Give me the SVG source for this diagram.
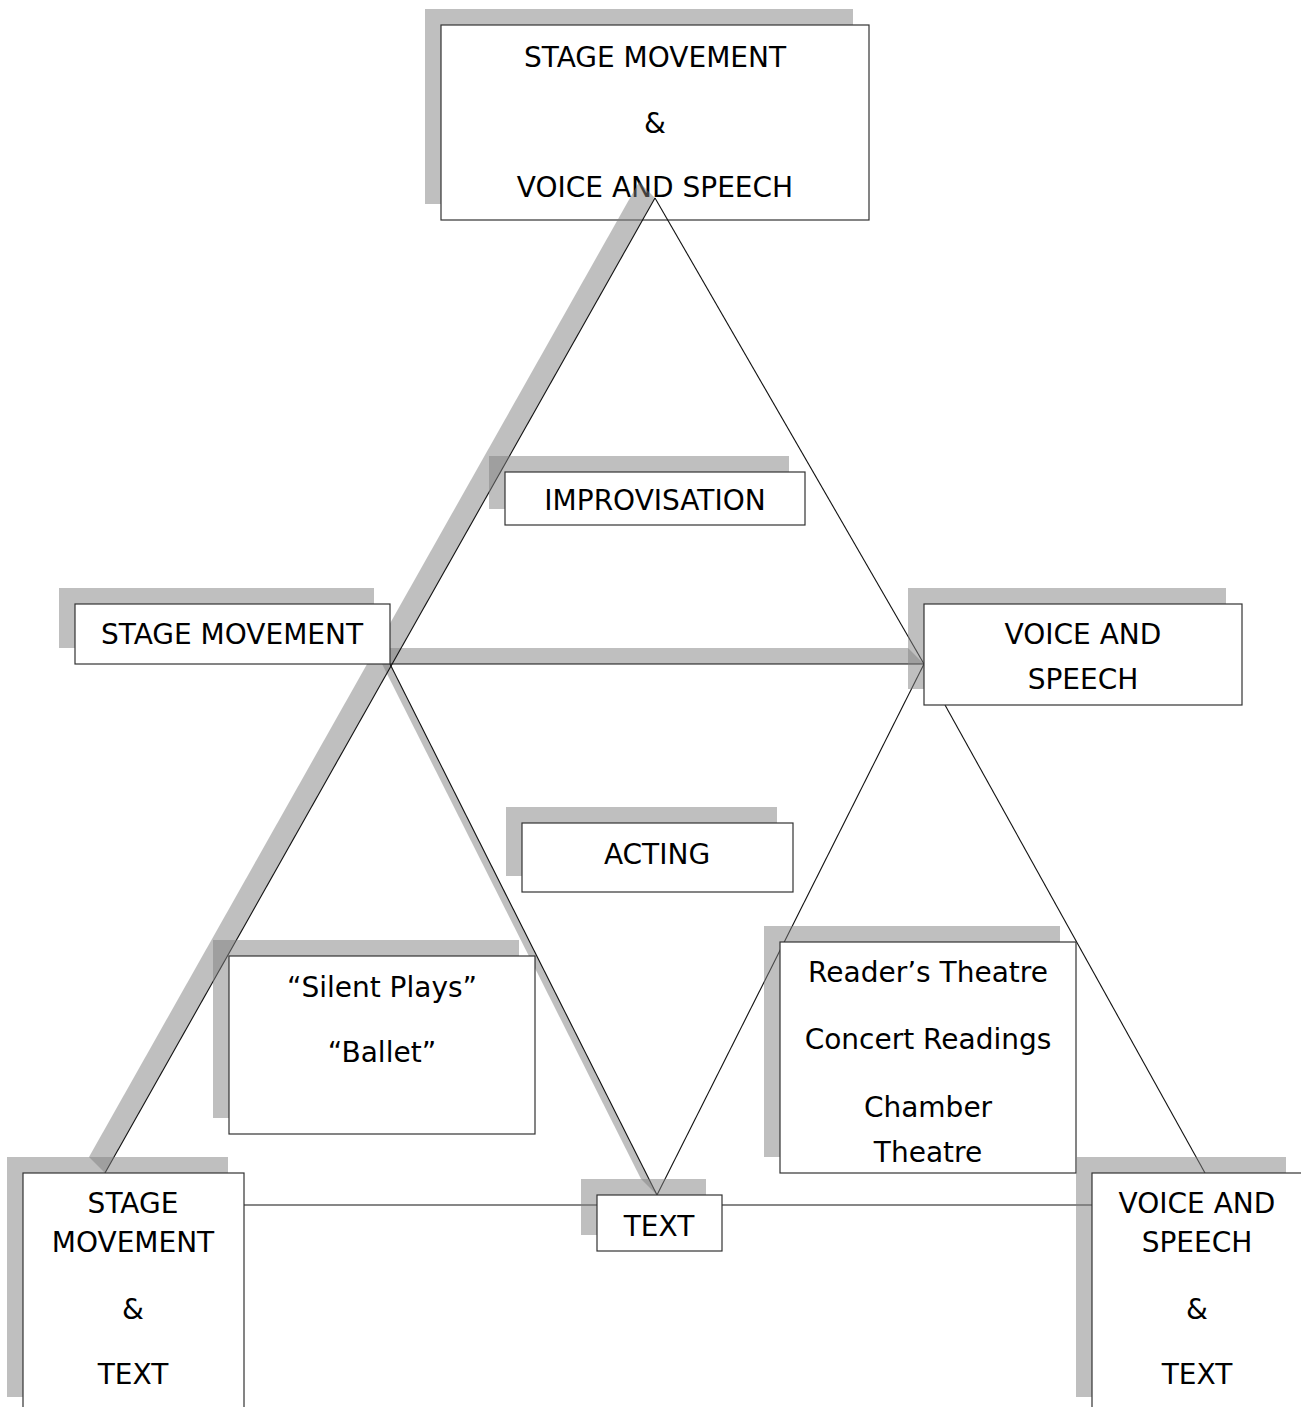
<svg xmlns="http://www.w3.org/2000/svg" width="1301" height="1407" viewBox="0 0 1301 1407">
<style>
.sh{fill:#808080;fill-opacity:0.5;stroke:none}
.bx{fill:#ffffff;stroke:#333333;stroke-width:1.2}
.ln{stroke:#111111;stroke-width:1.1;fill:none}
text{font-family:"DejaVu Sans","Liberation Sans",sans-serif;font-size:28px;fill:#000;text-anchor:middle}
</style>
<rect width="1301" height="1407" fill="#ffffff"/>
<g id="node-top">
<rect class="sh" x="425" y="9" width="428" height="195"/>
<rect class="bx" x="441" y="25" width="428" height="195"/>
<text x="655" y="67">STAGE MOVEMENT</text>
<text x="655" y="133">&amp;</text>
<text x="655" y="197">VOICE AND SPEECH</text>
</g>
<g id="connectors">
<polygon class="sh" points="655,198 105,1173 89,1157 639,182"/>
<polygon class="sh" points="390,664 924,664 908,648 374,648"/>
<polygon class="sh" points="390,664 657,1195 641,1179 374,648"/>
<line class="ln" x1="655" y1="198" x2="105" y2="1173"/>
<line class="ln" x1="655" y1="198" x2="924" y2="664"/>
<line class="ln" x1="945" y1="705" x2="1205" y2="1173"/>
<line class="ln" x1="390" y1="664" x2="924" y2="664"/>
<line class="ln" x1="390" y1="664" x2="657" y2="1195"/>
<line class="ln" x1="924" y1="664" x2="657" y2="1195"/>
<line class="ln" x1="244" y1="1205" x2="1092" y2="1205"/>
</g>
<g id="node-improvisation">
<rect class="sh" x="489" y="456" width="300" height="53"/>
<rect class="bx" x="505" y="472" width="300" height="53"/>
<text x="655" y="510">IMPROVISATION</text>
</g>
<g id="node-stage-movement">
<rect class="sh" x="59" y="588" width="315" height="60"/>
<rect class="bx" x="75" y="604" width="315" height="60"/>
<text x="232" y="644">STAGE MOVEMENT</text>
</g>
<g id="node-voice-speech">
<rect class="sh" x="908" y="588" width="318" height="101"/>
<rect class="bx" x="924" y="604" width="318" height="101"/>
<text x="1083" y="644">VOICE AND</text>
<text x="1083" y="689">SPEECH</text>
</g>
<g id="node-acting">
<rect class="sh" x="506" y="807" width="271" height="69"/>
<rect class="bx" x="522" y="823" width="271" height="69"/>
<text x="657" y="864">ACTING</text>
</g>
<g id="node-silent">
<rect class="sh" x="213" y="940" width="306" height="178"/>
<rect class="bx" x="229" y="956" width="306" height="178"/>
<text x="382" y="997">“Silent Plays”</text>
<text x="382" y="1062">“Ballet”</text>
</g>
<g id="node-readers">
<rect class="sh" x="764" y="926" width="296" height="231"/>
<rect class="bx" x="780" y="942" width="296" height="231"/>
<text x="928" y="982">Reader’s Theatre</text>
<text x="928" y="1049">Concert Readings</text>
<text x="928" y="1117">Chamber</text>
<text x="928" y="1162">Theatre</text>
</g>
<g id="node-text">
<rect class="sh" x="581" y="1179" width="125" height="56"/>
<rect class="bx" x="597" y="1195" width="125" height="56"/>
<text x="659" y="1236">TEXT</text>
</g>
<g id="node-sm-text">
<rect class="sh" x="7" y="1157" width="221" height="240"/>
<rect class="bx" x="23" y="1173" width="221" height="240"/>
<text x="133" y="1213">STAGE</text>
<text x="133" y="1252">MOVEMENT</text>
<text x="133" y="1319">&amp;</text>
<text x="133" y="1384">TEXT</text>
</g>
<g id="node-vs-text">
<rect class="sh" x="1076" y="1157" width="210" height="240"/>
<rect class="bx" x="1092" y="1173" width="210" height="240"/>
<text x="1197" y="1213">VOICE AND</text>
<text x="1197" y="1252">SPEECH</text>
<text x="1197" y="1319">&amp;</text>
<text x="1197" y="1384">TEXT</text>
</g>
</svg>
